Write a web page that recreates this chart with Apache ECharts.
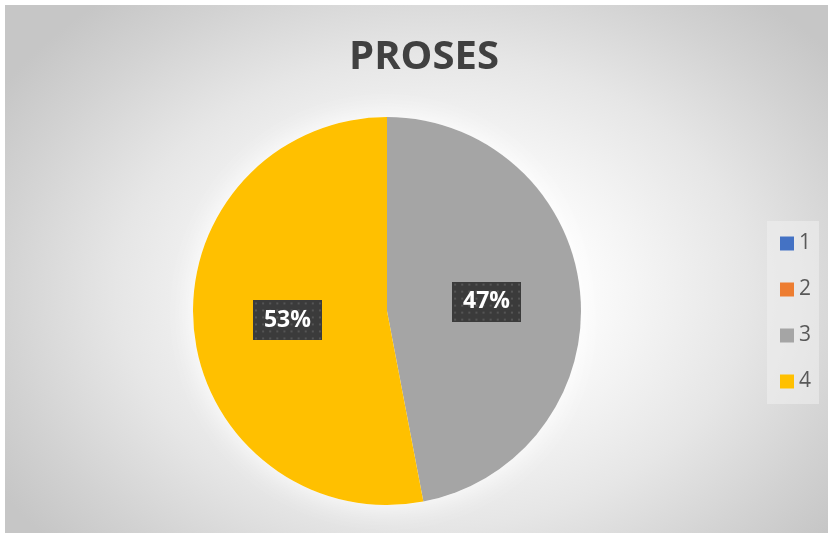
<!DOCTYPE html>
<html>
<head>
<meta charset="utf-8">
<script src="https://cdn.jsdelivr.net/npm/echarts@6/dist/echarts.min.js"></script>
<style>
  html, body { margin: 0; padding: 0; background: #ffffff; }
  #chart {
    position: absolute; left: 5px; top: 5px; width: 823px; height: 528px;
    background: radial-gradient(ellipse 62% 72% at 52% 54%,
      #ffffff 0%, #fbfbfb 30%, #e6e6e6 62%, #d2d2d2 85%, #c6c6c6 100%);
  }
</style>
</head>
<body>
<div id="chart"></div>
<script>
  // series data
  const categories = ['1', '2', '3', '4'];
  const values = [0, 0, 47, 53];
  const colors = ['#4472C4', '#ED7D31', '#A5A5A5', '#FFC000'];

  const FONT = '"Open Sans", "Noto Sans", sans-serif';

  // dotted dark texture used behind the data labels
  function labelTexture() {
    const c = document.createElement('canvas');
    c.width = 68; c.height = 40;
    const g = c.getContext('2d');
    g.fillStyle = '#3b3b3b';
    g.fillRect(0, 0, c.width, c.height);
    g.fillStyle = '#555555';
    for (let y = 2; y < c.height; y += 7) {
      for (let x = 2; x < c.width; x += 7) g.fillRect(x, y, 2, 2);
    }
    return c;
  }
  const tex = labelTexture();

  const chart = echarts.init(document.getElementById('chart'), null, { renderer: 'canvas' });

  const data = categories.map((name, i) => ({
    name, value: values[i],
    itemStyle: { color: colors[i] },
    label: { show: values[i] > 0 },
  }));

  chart.setOption({
    animation: false,
    title: {
      text: 'PROSES',
      left: 414, top: 28, textAlign: 'center',
      textStyle: { fontFamily: FONT, fontSize: 40, fontWeight: 'bold', color: '#404040' },
    },
    legend: {
      orient: 'vertical',
      left: 762, top: 216,
      padding: [12, 8, 12, 13],
      itemWidth: 14, itemHeight: 14, itemGap: 25,
      icon: 'rect',
      backgroundColor: 'rgba(240,240,240,0.55)',
      textStyle: { fontFamily: FONT, fontSize: 21, color: '#595959', lineHeight: 20 },
      data: categories,
    },
    series: [
      {
        // soft white glow behind the pie
        type: 'pie', silent: true, radius: 194, center: [382, 306],
        label: { show: false }, labelLine: { show: false },
        itemStyle: { color: '#ffffff', shadowBlur: 30, shadowColor: 'rgba(255,255,255,1)' },
        data: [1], z: 1,
      },
      {
        type: 'pie',
        radius: 194, center: [382, 306],
        startAngle: 90, clockwise: true,
        avoidLabelOverlap: false,
        label: {
          show: true, position: 'inside',
          formatter: (p) => Math.round(p.percent) + '%',
          fontFamily: FONT, fontSize: 23, fontWeight: 'bold', color: '#ffffff',
          lineHeight: 23,
          backgroundColor: { image: tex },
          padding: [9, 11, 8, 11],
          shadowBlur: 8, shadowOffsetX: 4, shadowOffsetY: 4,
          shadowColor: 'rgba(0,0,0,0.6)',
        },
        labelLine: { show: false },
        emphasis: { disabled: true },
        data, z: 2,
      },
    ],
  });
</script>
</body>
</html>
